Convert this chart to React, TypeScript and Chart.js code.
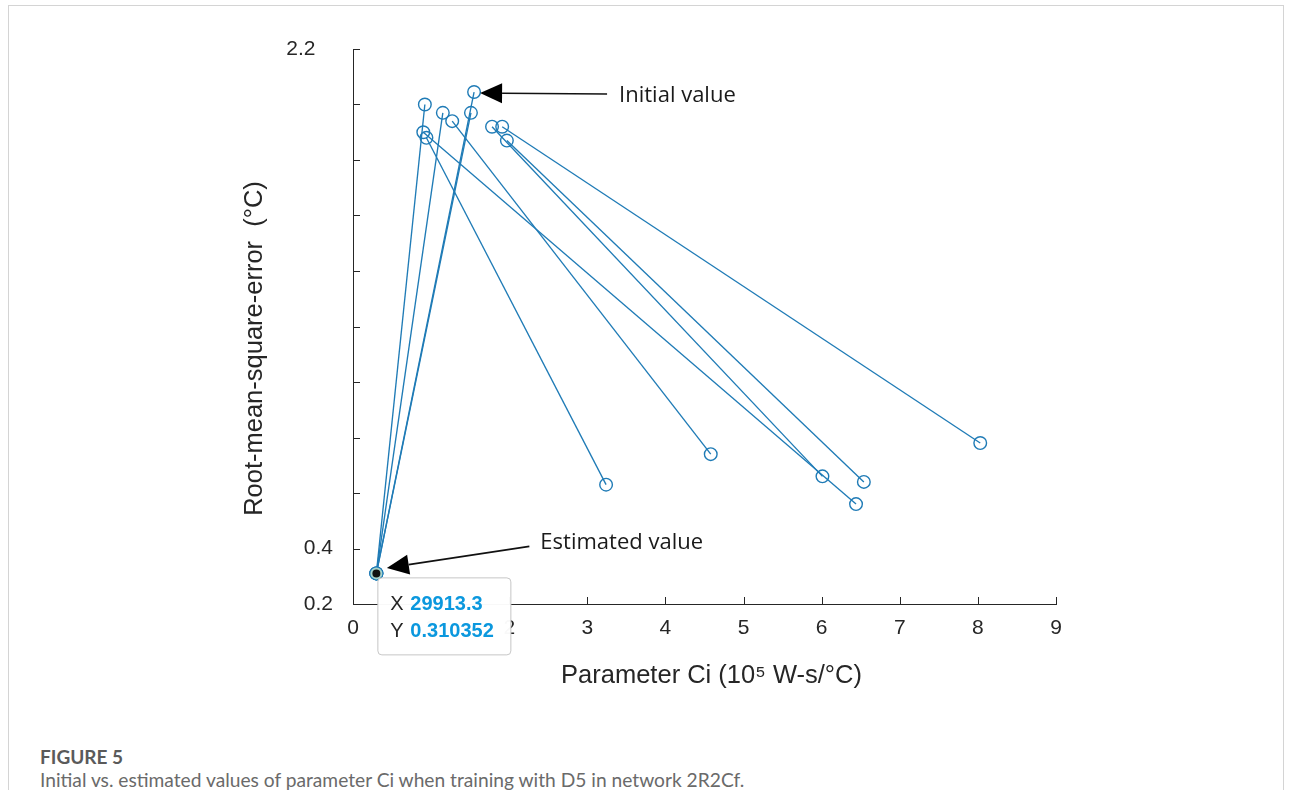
import React, { useEffect, useRef } from 'react';
import { Chart, registerables } from 'chart.js';

Chart.register(...registerables);

// Initial values of parameter Ci (10^5 W-s/°C) and their RMSE (°C)
const initialCi = [0.92, 1.15, 1.51, 1.55, 0.9, 0.94, 1.27, 1.78, 1.91, 1.97];
const initialRmse = [2.0, 1.97, 1.97, 2.045, 1.9, 1.88, 1.94, 1.92, 1.92, 1.87];
// Estimated values reached from each initial value
const estimatedCi = [0.299133, 0.299133, 0.299133, 0.299133, 6.44, 3.24, 4.58, 6.01, 8.03, 6.54];
const estimatedRmse = [0.310352, 0.310352, 0.310352, 0.310352, 0.56, 0.63, 0.74, 0.66, 0.78, 0.64];

// Axis settings
const xMin = 0;
const xMax = 9;
const yMin = 0.2;
const yMax = 2.2;
const yStep = 0.2;
const yLabeledTicks = [0.2, 0.4, 2.2];

const xTitle = 'Parameter Ci (10\u2075 W-s/°C)';
const yTitle = 'Root-mean-square-error  (°C)';
const initialLabel = 'Initial value';
const estimatedLabel = 'Estimated value';
const highlightIndex = 0; // the estimated point carrying the data tip
const arrowInitialIndex = 3; // initial point pointed to by "Initial value"

const lineColor = '#1f7bb6';
const axisColor = '#262626';
const tickFont = "'Liberation Sans', Arial, sans-serif";

function drawArrow(ctx: CanvasRenderingContext2D, fx: number, fy: number, tx: number, ty: number, headLen: number, headHalf: number) {
  const dx = fx - tx;
  const dy = fy - ty;
  const len = Math.hypot(dx, dy);
  const ux = dx / len;
  const uy = dy / len;
  const bx = tx + ux * headLen;
  const by = ty + uy * headLen;
  const nx = -uy;
  const ny = ux;
  ctx.beginPath();
  ctx.moveTo(fx, fy);
  ctx.lineTo(bx, by);
  ctx.lineWidth = 1.6;
  ctx.strokeStyle = '#111';
  ctx.stroke();
  ctx.beginPath();
  ctx.moveTo(tx, ty);
  ctx.lineTo(bx + nx * headHalf, by + ny * headHalf);
  ctx.lineTo(bx - nx * headHalf, by - ny * headHalf);
  ctx.closePath();
  ctx.fillStyle = '#000';
  ctx.fill();
}

const decorPlugin = {
  id: 'decor',
  afterDraw(chart: any) {
    const { ctx, chartArea: ca, scales } = chart;
    const xs = scales.x;
    const ys = scales.y;
    ctx.save();
    // inward tick marks
    ctx.strokeStyle = axisColor;
    ctx.lineWidth = 1;
    ys.ticks.forEach((t: any) => {
      const py = Math.round(ys.getPixelForValue(t.value)) + 0.5;
      ctx.beginPath();
      ctx.moveTo(ca.left, py);
      ctx.lineTo(ca.left + 7, py);
      ctx.stroke();
    });
    xs.ticks.forEach((t: any) => {
      const px = Math.round(xs.getPixelForValue(t.value)) + 0.5;
      ctx.beginPath();
      ctx.moveTo(px, ca.bottom);
      ctx.lineTo(px, ca.bottom - 7);
      ctx.stroke();
    });

    // axis titles
    ctx.fillStyle = axisColor;
    ctx.font = `25.5px ${tickFont}`;
    ctx.textAlign = 'center';
    ctx.textBaseline = 'middle';
    ctx.fillText(xTitle, (ca.left + ca.right) / 2 + 7, ca.bottom + 72);
    ctx.save();
    ctx.translate(ca.left - 98, (ca.top + ca.bottom) / 2 + 22);
    ctx.rotate(-Math.PI / 2);
    ctx.fillText(yTitle, 0, 0);
    ctx.restore();

    // "Initial value" arrow
    const ix = xs.getPixelForValue(initialCi[arrowInitialIndex]);
    const iy = ys.getPixelForValue(initialRmse[arrowInitialIndex]);
    drawArrow(ctx, ix + 133, iy + 2, ix + 6, iy + 1, 22, 10);
    ctx.font = "22px 'Open Sans', sans-serif";
    ctx.textAlign = 'left';
    ctx.fillStyle = '#1a1a1a';
    ctx.fillText(initialLabel, ix + 145, iy + 4);

    // "Estimated value" arrow
    const ex = xs.getPixelForValue(estimatedCi[highlightIndex]);
    const ey = ys.getPixelForValue(estimatedRmse[highlightIndex]);
    drawArrow(ctx, ex + 153, ey - 27, ex + 10.5, ey - 5.5, 22, 10);
    ctx.fillStyle = '#1a1a1a';
    ctx.fillText(estimatedLabel, ex + 164, ey - 31);

    // data tip
    const bx = ex + 1;
    const by = ey + 4;
    ctx.beginPath();
    ctx.roundRect(bx + 0.5, by + 0.5, 133, 77, 4);
    ctx.fillStyle = 'rgba(255,255,255,0.97)';
    ctx.fill();
    ctx.strokeStyle = '#c6c6c6';
    ctx.lineWidth = 1;
    ctx.stroke();
    ctx.font = `20px ${tickFont}`;
    ctx.fillStyle = axisColor;
    ctx.fillText('X', ex + 14, ey + 31);
    ctx.fillText('Y', ex + 14, ey + 58);
    ctx.font = `bold 20px ${tickFont}`;
    ctx.fillStyle = '#0b98de';
    ctx.fillText((estimatedCi[highlightIndex] * 1e5).toFixed(1), ex + 34, ey + 31);
    ctx.fillText(estimatedRmse[highlightIndex].toFixed(6), ex + 34, ey + 58);
    ctx.restore();
  },
};

export default function App() {
  const canvasRef = useRef<HTMLCanvasElement>(null);

  useEffect(() => {
    const canvas = canvasRef.current;
    if (!canvas) return;
    const datasets: any[] = initialCi.map((ci, i) => ({
      data: [
        { x: ci, y: initialRmse[i] },
        { x: estimatedCi[i], y: estimatedRmse[i] },
      ],
      showLine: true,
      borderColor: lineColor,
      borderWidth: 1.35,
      backgroundColor: 'rgba(0,0,0,0)',
      pointBackgroundColor: 'rgba(0,0,0,0)',
      pointBorderColor: lineColor,
      pointBorderWidth: 1.4,
      pointRadius: 6.3,
      clip: false,
      order: 1,
    }));
    datasets.push({
      data: [{ x: estimatedCi[highlightIndex], y: estimatedRmse[highlightIndex] }],
      showLine: false,
      pointRadius: 5,
      pointBackgroundColor: '#111',
      pointBorderColor: '#a6d3cb',
      pointBorderWidth: 2,
      clip: false,
      order: -1,
    });

    const chart = new Chart(canvas, {
      type: 'scatter',
      data: { datasets },
      options: {
        animation: false,
        responsive: false,
        maintainAspectRatio: false,
        events: [],
        layout: { padding: { left: 0, top: 49, right: 237, bottom: 0 } },
        plugins: { legend: { display: false }, tooltip: { enabled: false } },
        scales: {
          x: {
            type: 'linear',
            min: xMin,
            max: xMax,
            afterFit: (s: any) => { s.height = 96; },
            ticks: {
              stepSize: 1,
              padding: 12,
              color: axisColor,
              font: { family: tickFont, size: 21 },
            },
            grid: { display: false, drawTicks: false },
            border: { display: true, color: axisColor, width: 1 },
          },
          y: {
            type: 'linear',
            min: yMin,
            max: yMax,
            afterFit: (s: any) => { s.width = 353; },
            ticks: {
              stepSize: yStep,
              padding: 20,
              color: axisColor,
              font: { family: tickFont, size: 21 },
              callback: (v: any) => {
                const n = Number(v);
                if (!yLabeledTicks.some((l) => Math.abs(l - n) < 1e-6)) return '';
                return Math.abs(n - yMax) < 1e-6 ? n.toFixed(1) + '   ' : n.toFixed(1);
              },
            },
            grid: { display: false, drawTicks: false },
            border: { display: true, color: axisColor, width: 1 },
          },
        },
      },
      plugins: [decorPlugin],
    } as any);
    return () => chart.destroy();
  }, []);

  return (
    <div style={{ position: 'absolute', left: 0, top: 0, width: 1293, height: 790, background: '#fff', overflow: 'hidden' }}>
      <div style={{ position: 'absolute', left: 8, top: 5, width: 1276, height: 820, border: '1px solid #d4d4d4', boxSizing: 'border-box' }} />
      <canvas ref={canvasRef} width={1293} height={700} style={{ position: 'absolute', left: 0, top: 0, width: 1293, height: 700 }} />
      <div style={{ position: 'absolute', left: 40, top: 747, fontFamily: 'Lato, sans-serif', fontWeight: 700, fontSize: 19, lineHeight: '20px', color: '#5a5a5a' }}>
        FIGURE 5
      </div>
      <div style={{ position: 'absolute', left: 40, top: 769, fontFamily: 'Lato, sans-serif', fontSize: 19.2, lineHeight: '22px', color: '#6a6a6a' }}>
        Initial vs. estimated values of parameter Ci when training with D5 in network 2R2Cf.
      </div>
    </div>
  );
}
